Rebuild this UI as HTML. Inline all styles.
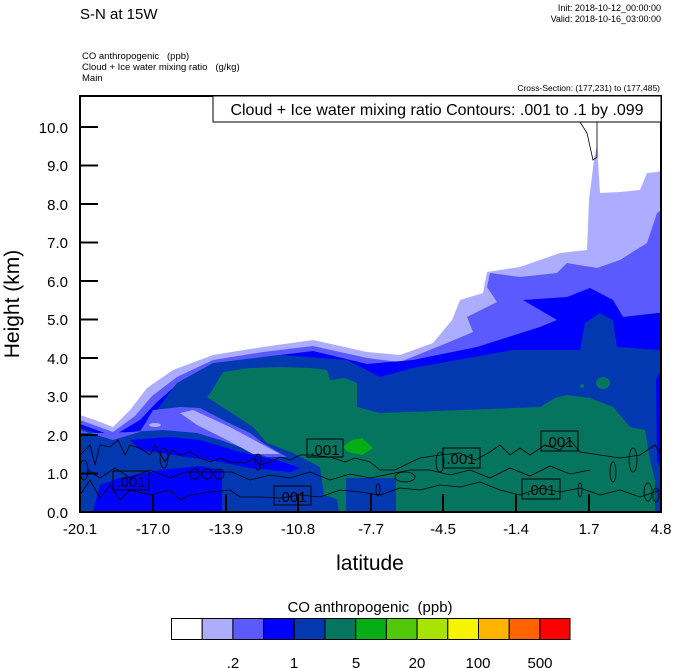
<!DOCTYPE html>
<html><head><meta charset="utf-8"><style>
html,body{margin:0;padding:0;background:#fff;}
svg{display:block;font-family:"Liberation Sans",Arial,sans-serif;}
text{white-space:pre;}
</style></head><body>
<svg width="674" height="668" viewBox="0 0 674 668" xmlns="http://www.w3.org/2000/svg">
<rect width="674" height="668" fill="#fff"/>
<text x="80" y="19" font-size="15">S-N at 15W</text>
<text x="661" y="11" font-size="9" text-anchor="end">Init: 2018-10-12_00:00:00</text>
<text x="661" y="22" font-size="9" text-anchor="end">Valid: 2018-10-16_03:00:00</text>
<text x="82" y="59" font-size="9.5">CO anthropogenic   (ppb)</text>
<text x="82" y="70" font-size="9.5">Cloud + Ice water mixing ratio   (g/kg)</text>
<text x="82" y="81" font-size="9.5">Main</text>
<text x="660" y="91" font-size="8.5" text-anchor="end">Cross-Section: (177,231) to (177,485)</text>
<defs><clipPath id="c"><rect x="80" y="96" width="581" height="416"/></clipPath></defs>
<g clip-path="url(#c)">
<polygon fill="#adadff" points="80,415 95,420 113,427 130,410 147,388 173,370 213,355 263,347 313,340 367,352 400,355 433,343 452,320 460,300 483,293 487,272 520,267 560,253 587,250 589,200 594,160 597,145 600,193 620,192 640,190 647,173 658,172 661,170 661,512 80,512"/>
<polygon fill="#5a5aff" points="80,420 113,432 135,416 152,396 177,377 213,360 263,352 313,346 367,358 400,362 447,343 473,332 467,317 497,302 487,287 490,273 520,277 557,273 567,263 597,268 620,260 647,243 657,213 661,210 661,512 80,512"/>
<polygon fill="#0000ff" points="80,424 113,436 140,420 157,402 180,382 213,366 263,357 313,351 367,364 413,360 477,347 540,327 557,320 523,300 567,297 590,288 613,300 623,317 658,313 661,313 661,512 80,512"/>
<polygon fill="#0238b0" points="80,428 113,438 140,430 157,410 177,383 213,363 280,355 347,360 380,377 413,368 513,350 580,350 585,323 600,313 613,320 617,347 661,350 661,512 80,512"/>
<polygon fill="#5a5aff" points="153,410 180,407 200,408 227,422 250,433 263,443 280,453 287,457 267,457 240,447 220,440 197,433 163,430 130,432 100,433 80,433 80,430 113,440 140,432"/>
<polygon fill="#adadff" points="193,410 230,427 267,447 280,454 253,454 227,440 197,425 180,413"/>
<ellipse cx="155" cy="425" rx="6" ry="2" fill="#adadff"/>
<polygon fill="#0000ff" points="130,440 170,437 200,440 240,452 280,461 300,468 290,472 250,468 220,462 180,456 140,450"/>
<polygon fill="#0000ff" points="93,512 100,485 120,478 160,470 200,466 222,470 222,512"/>
<polygon fill="#057560" points="207,397 211,392 223,372 250,368 280,367 310,368 327,370 330,380 345,378 357,383 357,407 380,413 463,410 540,407 555,398 567,395 590,398 613,407 630,427 645,430 650,460 655,480 655,512 396,512 396,478 346,478 346,512 339,512 337,499 324,495 320,467 293,453 267,443 253,427 227,410"/>
<polygon fill="#06ae16" points="343,447 352,440 362,438 373,448 362,455 348,452"/>
<ellipse cx="603" cy="383" rx="7" ry="6" fill="#057560"/>
<circle cx="582" cy="386" r="2" fill="#057560"/>
<polygon fill="#0000ff" points="656,380 661,370 661,470 657,460"/>
<g fill="none" stroke="#000" stroke-width="0.8">
<polyline points="80,455 90,445 95,465 100,445 110,447 118,440 125,455 130,445 140,448 150,455 155,445 165,462 172,450 180,455 190,452 200,458 210,462 220,458 230,462 245,463 255,458 260,465 270,462 280,457 290,460 300,455 310,455 330,457 345,462 355,458 370,462 380,470 395,470 405,465 420,458 440,455 460,453 475,460 490,452 500,445 510,455 520,448 530,455 545,445 560,450 570,440 580,452 600,455 620,458 640,455 655,445 661,455"/>
<polyline points="80,495 90,480 100,498 110,485 120,500 130,490 150,495 170,490 180,500 190,495 210,492 230,490 240,497 260,497 280,498 300,495 320,497 340,490 360,492 380,495 400,488 420,490 440,485 460,487 480,482 500,490 520,495 540,488 560,492 580,488 600,495 620,490 640,497 661,490"/>
<polyline points="88,470 100,478 115,468 130,478 150,470 170,478 185,472 232,472 250,480 270,475 290,478 310,472 330,480 350,474 370,478 390,474 410,470 430,470 450,475 470,470 490,478 510,468 530,476 550,466 570,474 590,470"/>
<ellipse cx="84" cy="470" rx="4" ry="10"/>
<ellipse cx="195" cy="474" rx="5" ry="5"/><ellipse cx="207" cy="474" rx="5" ry="5"/><ellipse cx="219" cy="474" rx="5" ry="5"/>
<ellipse cx="164" cy="458" rx="4" ry="10"/><ellipse cx="258" cy="462" rx="3" ry="8"/>
<ellipse cx="405" cy="477" rx="10" ry="5"/>
<ellipse cx="440" cy="462" rx="4" ry="10"/>
<ellipse cx="613" cy="472" rx="3" ry="10"/><ellipse cx="633" cy="460" rx="4" ry="12"/>
<ellipse cx="648" cy="492" rx="4" ry="9"/><ellipse cx="656" cy="495" rx="3" ry="7"/>
<ellipse cx="378" cy="490" rx="2" ry="6"/><ellipse cx="580" cy="490" rx="2" ry="7"/>
<polyline points="580,122 587,133 593,160 597,157 597,122"/>
</g>
</g>
<g font-size="15" text-anchor="middle">
<rect x="113" y="471" width="36" height="19" fill="none" stroke="#000"/><text x="131" y="487">.001</text>
<rect x="274" y="486" width="37" height="19" fill="none" stroke="#000"/><text x="292" y="502">.001</text>
<rect x="307" y="439" width="36" height="18" fill="none" stroke="#000"/><text x="325" y="455">.001</text>
<rect x="443" y="448" width="37" height="20" fill="none" stroke="#000"/><text x="461" y="464">.001</text>
<rect x="522" y="479" width="38" height="20" fill="none" stroke="#000"/><text x="541" y="495">.001</text>
<rect x="541" y="431" width="37" height="20" fill="none" stroke="#000"/><text x="559" y="447">.001</text>
</g>
<rect x="80" y="96" width="581" height="416" fill="none" stroke="#000" stroke-width="2"/>
<rect x="213" y="96" width="448" height="26" fill="#fff" stroke="#000" stroke-width="1"/>
<text x="437" y="115" font-size="16" text-anchor="middle">Cloud + Ice water mixing ratio Contours: .001 to .1 by .099</text>
<g stroke="#000" stroke-width="2">
<line x1="80" y1="127" x2="98" y2="127"/><line x1="80" y1="165.5" x2="98" y2="165.5"/><line x1="80" y1="204" x2="98" y2="204"/><line x1="80" y1="242.5" x2="98" y2="242.5"/><line x1="80" y1="281" x2="98" y2="281"/><line x1="80" y1="319.5" x2="98" y2="319.5"/><line x1="80" y1="358" x2="98" y2="358"/><line x1="80" y1="396.5" x2="98" y2="396.5"/><line x1="80" y1="435" x2="98" y2="435"/><line x1="80" y1="473.5" x2="98" y2="473.5"/>
<line x1="153" y1="512" x2="153" y2="494"/><line x1="226" y1="512" x2="226" y2="494"/><line x1="298" y1="512" x2="298" y2="494"/><line x1="371" y1="512" x2="371" y2="494"/><line x1="443" y1="512" x2="443" y2="494"/><line x1="516" y1="512" x2="516" y2="494"/><line x1="589" y1="512" x2="589" y2="494"/>
</g>
<g font-size="15" text-anchor="end">
<text x="68" y="133">10.0</text><text x="68" y="171">9.0</text><text x="68" y="210">8.0</text><text x="68" y="248">7.0</text><text x="68" y="287">6.0</text><text x="68" y="325">5.0</text><text x="68" y="364">4.0</text><text x="68" y="402">3.0</text><text x="68" y="441">2.0</text><text x="68" y="479">1.0</text><text x="68" y="518">0.0</text>
</g>
<g font-size="15" text-anchor="middle">
<text x="80" y="534">-20.1</text><text x="153" y="534">-17.0</text><text x="226" y="534">-13.9</text><text x="298" y="534">-10.8</text><text x="371" y="534">-7.7</text><text x="443" y="534">-4.5</text><text x="516" y="534">-1.4</text><text x="589" y="534">1.7</text><text x="661" y="534">4.8</text>
</g>
<text x="370" y="570" font-size="21" text-anchor="middle">latitude</text>
<text transform="translate(19,304) rotate(-90)" font-size="21" text-anchor="middle">Height (km)</text>
<text x="370" y="612" font-size="15" text-anchor="middle">CO anthropogenic  (ppb)</text>
<g stroke="#000" stroke-width="1">
<rect x="171.5" y="618.5" width="30.7" height="21" fill="#ffffff"/>
<rect x="202.2" y="618.5" width="30.7" height="21" fill="#adadff"/>
<rect x="232.9" y="618.5" width="30.7" height="21" fill="#5a5aff"/>
<rect x="263.6" y="618.5" width="30.7" height="21" fill="#0000ff"/>
<rect x="294.3" y="618.5" width="30.7" height="21" fill="#0238b0"/>
<rect x="325" y="618.5" width="30.7" height="21" fill="#057560"/>
<rect x="355.7" y="618.5" width="30.7" height="21" fill="#06ae16"/>
<rect x="386.4" y="618.5" width="30.7" height="21" fill="#52c80a"/>
<rect x="417.1" y="618.5" width="30.7" height="21" fill="#a8e400"/>
<rect x="447.8" y="618.5" width="30.7" height="21" fill="#f5f500"/>
<rect x="478.5" y="618.5" width="30.7" height="21" fill="#ffb400"/>
<rect x="509.2" y="618.5" width="30.7" height="21" fill="#ff6400"/>
<rect x="539.9" y="618.5" width="30.1" height="21" fill="#ff0000"/>
</g>
<g font-size="15" text-anchor="middle">
<text x="233" y="668">.2</text><text x="294" y="668">1</text><text x="356" y="668">5</text><text x="417" y="668">20</text><text x="478" y="668">100</text><text x="540" y="668">500</text>
</g>
</svg>
</body></html>
